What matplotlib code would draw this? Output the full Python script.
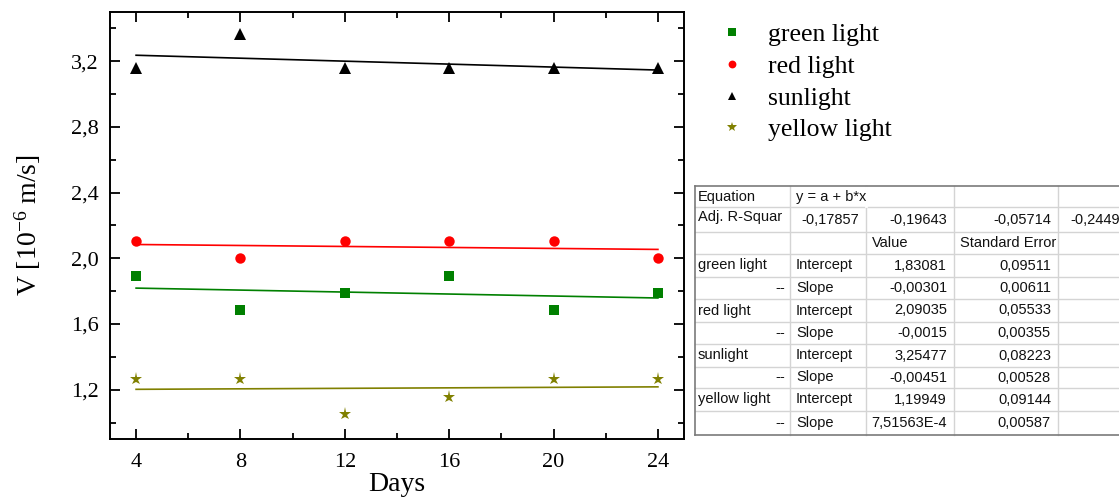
import matplotlib
matplotlib.use("Agg")
import matplotlib.pyplot as plt
import numpy as np
from matplotlib.ticker import MultipleLocator, FuncFormatter

days = [4, 8, 12, 16, 20, 24]
green = [1.895, 1.684, 1.789, 1.895, 1.684, 1.789]
red = [2.105, 2.0, 2.105, 2.105, 2.105, 2.0]
sun = [3.158, 3.368, 3.158, 3.158, 3.158, 3.158]
yellow = [1.263, 1.263, 1.053, 1.158, 1.263, 1.263]

series_names = ["green light", "red light", "sunlight", "yellow light"]
intercepts = [1.83081, 2.09035, 3.25477, 1.19949]
slopes = [-0.00301, -0.0015, -0.00451, 7.51563e-4]
std_int = ["0,09511", "0,05533", "0,08223", "0,09144"]
std_slope = ["0,00611", "0,00355", "0,00528", "0,00587"]
val_int = ["1,83081", "2,09035", "3,25477", "1,19949"]
val_slope = ["-0,00301", "-0,0015", "-0,00451", "7,51563E-4"]
adj_r2 = ["-0,17857", "-0,19643", "-0,05714", "-0,2449"]

colors = ["#008000", "#ff0000", "#000000", "#808000"]
markers = ["s", "o", "^", "*"]
msizes = [7, 7.5, 8.5, 9.5]

plt.rcParams["mathtext.fontset"] = "custom"
plt.rcParams["mathtext.rm"] = "Liberation Serif"
plt.rcParams["mathtext.it"] = "Liberation Serif:italic"

W, H = 1119, 500
fig = plt.figure(figsize=(W / 100, H / 100), dpi=100)
serif = ["Liberation Serif", "DejaVu Serif"]

ax = fig.add_axes([110 / W, 1 - 439 / H, (684 - 110) / W, (439 - 12) / H])
ys = [green, red, sun, yellow]
handles = []
for y, c, m, ms, a, b in zip(ys, colors, markers, msizes, intercepts, slopes):
    h, = ax.plot(days, y, linestyle="none", marker=m, color=c, markersize=ms,
                 markeredgewidth=0)
    handles.append(h)
    xf = np.array([days[0], days[-1]])
    ax.plot(xf, a + b * xf, color=c, lw=1.2)

ax.set_xlim(3, 25)
ax.set_ylim(0.9, 3.5)
ax.xaxis.set_major_locator(MultipleLocator(4))
ax.xaxis.set_minor_locator(MultipleLocator(2))
ax.yaxis.set_major_locator(MultipleLocator(0.4))
ax.yaxis.set_minor_locator(MultipleLocator(0.2))
ax.yaxis.set_major_formatter(FuncFormatter(lambda v, p: f"{v:.1f}".replace(".", ",")))
ax.tick_params(which="both", direction="in", top=True, right=True, width=1.3)
ax.tick_params(which="major", length=7, labelsize=16, pad=8)
ax.tick_params(axis="x", which="major", pad=10)
ax.tick_params(which="minor", length=4)
for lab in ax.get_xticklabels() + ax.get_yticklabels():
    lab.set_family(serif)
for s in ax.spines.values():
    s.set_linewidth(1.4)
ax.set_xlabel("Days", fontsize=20, family=serif, labelpad=0)
ax.set_ylabel(r"V [10$^{\mathrm{-6}}$ m/s]", fontsize=20, family=serif, labelpad=20)

leg = fig.legend(handles, series_names, loc="upper left",
                 bbox_to_anchor=(693 / W, 1.0), frameon=False,
                 prop={"family": serif, "size": 18.5}, handlelength=1.2,
                 handletextpad=0.83, labelspacing=0.34, markerscale=0.75)

# Table overlay in pixel coordinates
ov = fig.add_axes([0, 0, 1, 1])
ov.set_xlim(0, W)
ov.set_ylim(H, 0)
ov.axis("off")
rows = [186, 207, 232, 254, 277, 299, 322, 344, 367, 388, 411, 435]
cols = [695, 790, 866, 954, 1058, 1170]
grid_c = "#d4d4d4"
edge_c = "#7a7a7a"
for r in rows[1:-1]:
    ov.plot([cols[0], cols[-1]], [r, r], color=grid_c, lw=1)
for c in cols[1:-1]:
    ov.plot([c, c], [rows[0], rows[-1]], color=grid_c, lw=1)
ov.plot([cols[2], cols[2]], [rows[0] + 1, rows[1] - 1], color="white", lw=2)
ov.plot([cols[0], cols[-1]], [rows[0], rows[0]], color=edge_c, lw=1.2)
ov.plot([cols[0], cols[-1]], [rows[-1], rows[-1]], color=edge_c, lw=1.2)
ov.plot([cols[0], cols[0]], [rows[0], rows[-1]], color=edge_c, lw=1.2)

fs = 10.5
tf = ["Liberation Sans", "DejaVu Sans"]

def cell_text(row, col, s, align="left"):
    yc = (rows[row] + rows[row + 1]) / 2
    if align == "left":
        x = cols[col] + (3 if col == 0 else 6)
    else:
        x = cols[col + 1] - (5 if col == 0 else 7)
    ov.text(x, yc, s, ha=align, va="center", fontsize=fs, family=tf, color="#111111")

cell_text(0, 0, "Equation")
cell_text(0, 1, "y = a + b*x")
ov.text(cols[0] + 3, rows[1] + 10, "Adj. R-Squar", ha="left", va="center",
        fontsize=fs, family=tf, color="#111111")
for i, v in enumerate(adj_r2[:3]):
    cell_text(1, 1 + i, v, "right")
ov.text(cols[4] + 12, (rows[1] + rows[2]) / 2, adj_r2[3], ha="left", va="center",
        fontsize=fs, family=tf, color="#111111")
cell_text(2, 2, "Value")
cell_text(2, 3, "Standard Error")
for i, name in enumerate(series_names):
    r = 3 + 2 * i
    cell_text(r, 0, name)
    cell_text(r, 1, "Intercept")
    cell_text(r, 2, val_int[i], "right")
    cell_text(r, 3, std_int[i], "right")
    cell_text(r + 1, 0, "--", "right")
    cell_text(r + 1, 1, "Slope")
    cell_text(r + 1, 2, val_slope[i], "right")
    cell_text(r + 1, 3, std_slope[i], "right")

fig.savefig("out.png", dpi=100)
